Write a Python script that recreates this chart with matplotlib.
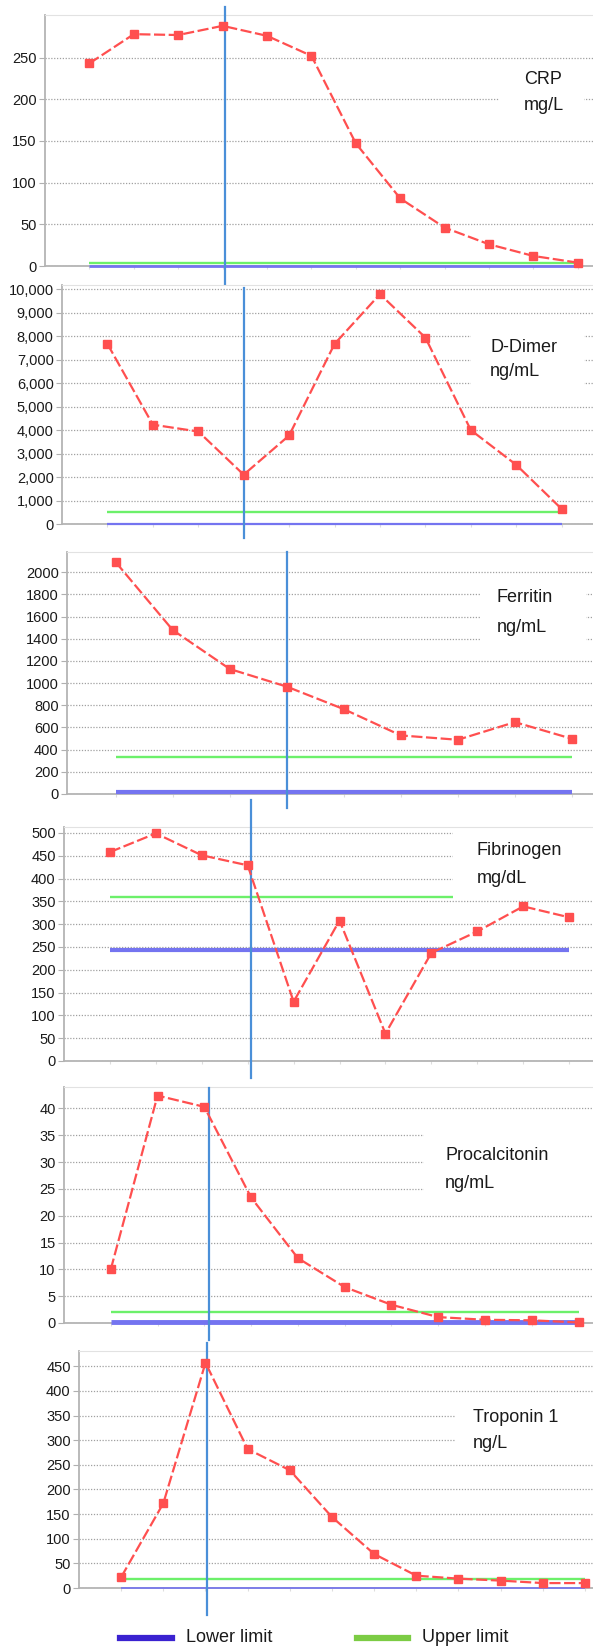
import matplotlib
matplotlib.use("Agg")
import matplotlib.pyplot as plt
from matplotlib.lines import Line2D
from matplotlib.patches import Rectangle
from matplotlib.ticker import FuncFormatter

plt.rcParams['font.family'] = ['Liberation Sans', 'DejaVu Sans']

# ---- data ----
crp = [243, 278, 277, 288, 276, 252, 147, 81, 46, 26, 12, 4]
ddimer = [7670, 4230, 3940, 2100, 3770, 7670, 9790, 7940, 4000, 2520, 640]
ferritin = [2090, 1478, 1127, 968, 765, 528, 489, 648, 498]
fibrinogen = [458, 499, 451, 429, 130, 308, 60, 237, 284, 339, 315]
procalcitonin = [10, 42.4, 40.3, 23.4, 12.1, 6.7, 3.4, 1.1, 0.6, 0.5, 0.1]
troponin = [22, 172, 457, 282, 239, 144, 69, 25, 19, 15, 10, 10]

names = ["CRP", "D-Dimer", "Ferritin", "Fibrinogen", "Procalcitonin", "Troponin 1"]
units = ["mg/L", "ng/mL", "ng/mL", "mg/dL", "ng/mL", "ng/L"]
lower_limits = [0, 0, 20, 243, 0.25, 0]
upper_limits = [4, 500, 335, 360, 2, 19]
event_x = [4.05, 4.0, 4.0, 4.08, 3.1, 3.03]
y_ticks = [range(0, 251, 50), range(0, 10001, 1000), range(0, 2001, 200),
           range(0, 501, 50), range(0, 41, 5), range(0, 451, 50)]
y_max = [301, 10180, 2182, 513, 44, 481]
series = [crp, ddimer, ferritin, fibrinogen, procalcitonin, troponin]

# ---- layout (pixels) ----
W, H = 593, 1648
# left, top, bottom of each axes
boxes = [(45, 15, 266), (62, 285, 524), (67, 552, 794),
         (64, 827, 1061), (64, 1087, 1323), (79, 1351, 1588)]
x_left = [0, 0, 0.145, 0, 0, 0]
x_right = [12.34, 11.69, 9.37, 11.52, 11.31, 12.19]
vline_span = [(7, 285), (288, 538), (552, 808), (800, 1078), (1088, 1340), (1343, 1615)]
label_pos = [(524, 80, 106), (490, 347, 372), (497, 598, 628),
             (477, 850, 878), (445, 1156, 1183), (473, 1417, 1444)]
white_box = [(499, 62, 584, 118), (471, 320, 584, 395), (480, 580, 586, 650),
             (453, 828, 592, 899), (424, 1120, 592, 1203), (456, 1400, 593, 1455)]
lower_lw = [2.0, 1.6, 3.0, 3.0, 3.5, 1.2]

RED = '#ff4f4f'
GREEN = '#6cf06a'
BLUE_LO = '#7474f0'
VBLUE = '#4a8fd8'

fig = plt.figure(figsize=(W / 100, H / 100), dpi=100)

for i in range(6):
    left, top, bottom = boxes[i]
    ax = fig.add_axes([left / W, 1 - bottom / H, 1 - left / W, (bottom - top) / H])
    vals = series[i]
    xs = list(range(1, len(vals) + 1))

    ax.plot([xs[0], xs[-1]], [lower_limits[i]] * 2, color=BLUE_LO, lw=lower_lw[i], zorder=2.7,
            solid_capstyle='butt', clip_on=False)
    ax.plot([xs[0], xs[-1]], [upper_limits[i]] * 2, color=GREEN, lw=1.7, zorder=1.8,
            solid_capstyle='butt', clip_on=False)
    ax.plot(xs, vals, color=RED, lw=1.6, dashes=(5, 1.6), marker='s', ms=5.4,
            mec=RED, mfc=RED, zorder=3, clip_on=False)

    ax.set_xlim(x_left[i], x_right[i])
    ax.set_ylim(0, y_max[i])
    ax.set_yticks(list(y_ticks[i]))
    if i == 1:
        ax.yaxis.set_major_formatter(FuncFormatter(lambda v, p: f"{int(v):,}"))
    ax.set_xticks(xs)
    ax.set_xticklabels([])
    ax.tick_params(axis='x', length=2, color='#dddddd')
    ax.tick_params(axis='y', length=4, color='#b0b0b0', labelsize=10.5, pad=2, labelcolor='#1a1a1a')
    ax.yaxis.grid(True, linestyle=(0, (1, 1.3)), color='#a0a0a0', lw=0.9)
    for side in ['left', 'bottom']:
        ax.spines[side].set_color('#b4b4b4')
        ax.spines[side].set_linewidth(1.3)
    ax.spines['top'].set_color('#e2e2e2')
    ax.spines['right'].set_visible(False)

    # event marker
    y0, y1 = vline_span[i]
    h = bottom - top
    ax.axvline(event_x[i], ymin=(bottom - y1) / h, ymax=(bottom - y0) / h,
               color=VBLUE, lw=1.6, clip_on=False, zorder=2.8)

    # label box
    bx0, by0, bx1, by1 = white_box[i]
    ax.add_patch(Rectangle((bx0 / W, 1 - by1 / H), (bx1 - bx0) / W, (by1 - by0) / H,
                           transform=fig.transFigure, facecolor='white', edgecolor='none',
                           zorder=2))
    lx, ly1, ly2 = label_pos[i]
    fig.text(lx / W, 1 - ly1 / H, names[i], fontsize=13, va='center', ha='left',
             color='#1a1a1a', zorder=5)
    fig.text(lx / W, 1 - ly2 / H, units[i], fontsize=13, va='center', ha='left',
             color='#1a1a1a', zorder=5)

# legend
ly = 1 - 1638 / H
fig.add_artist(Line2D([120 / W, 172 / W], [ly, ly], color='#3a22d0', lw=4.5))
fig.text(186 / W, ly, "Lower limit", fontsize=13, va='center', color='#1a1a1a')
fig.add_artist(Line2D([357 / W, 408 / W], [ly, ly], color='#7ccc44', lw=4.5))
fig.text(422 / W, ly, "Upper limit", fontsize=13, va='center', color='#1a1a1a')

fig.savefig("out.png", dpi=100)
